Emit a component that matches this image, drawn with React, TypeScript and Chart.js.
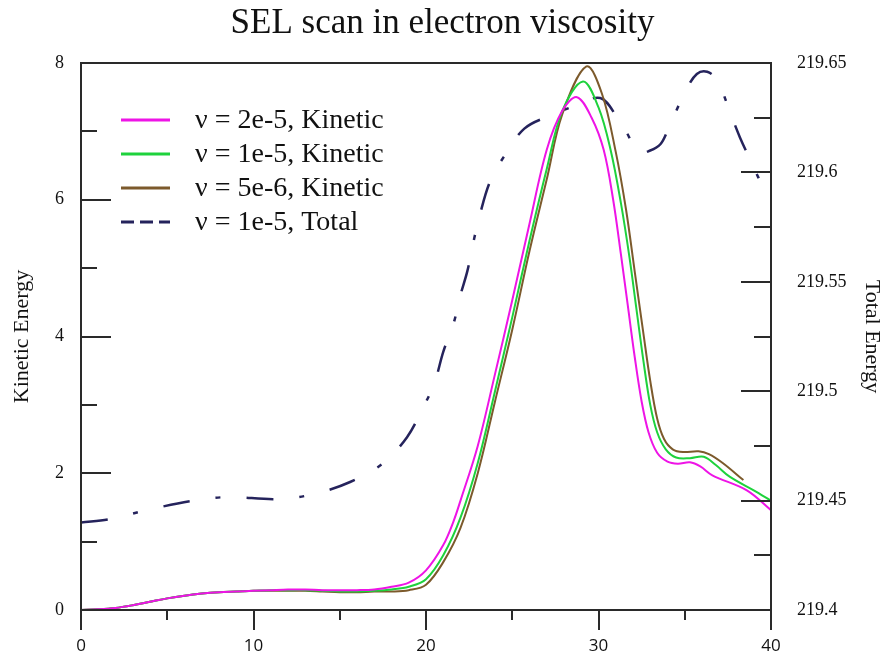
import React, { useEffect, useRef } from "react";
import { Chart, registerables } from "chart.js";
Chart.register(...registerables);

const TITLE = "SEL scan in electron viscosity";
const LEFT_TITLE = "Kinetic Energy";
const RIGHT_TITLE = "Total Energy";
const SERIES_LABELS = ["ν = 2e-5, Kinetic", "ν = 1e-5, Kinetic", "ν = 5e-6, Kinetic", "ν = 1e-5, Total"];

const MAG_X = [0,1,2,3,4,5,6,7,8,9,10,11,12,13,14,15,16,17,18,19,20,21,21.6,22,23,24,25,26,27,27.9,28.75,29.6,30.3,30.85,31.3,31.7,32.1,32.5,32.9,33.4,34.0,34.6,35.3,35.9,36.6,38.6,40];
const MAG_Y = [0,0.01,0.03,0.07,0.12,0.17,0.21,0.24,0.26,0.27,0.28,0.29,0.3,0.3,0.29,0.29,0.29,0.3,0.34,0.4,0.58,0.95,1.3,1.6,2.4,3.45,4.53,5.65,6.73,7.3,7.5,7.2,6.73,6.0,5.2,4.45,3.7,3.05,2.6,2.3,2.17,2.14,2.16,2.1,1.97,1.75,1.46];

const GRN_X = [0,1,2,3,4,5,6,7,8,9,10,11,12,13,14,15,16,17,18,19,20,21,22,23,24,25,26,27,27.9,29.1,30.0,30.7,31.3,31.8,32.2,32.6,33.0,33.4,33.9,34.5,35.3,36.1,36.8,37.6,39,40];
const GRN_Y = [0,0.01,0.03,0.07,0.12,0.17,0.21,0.24,0.26,0.27,0.28,0.29,0.29,0.29,0.28,0.27,0.27,0.28,0.3,0.34,0.45,0.8,1.35,2.15,3.2,4.28,5.4,6.45,7.3,7.73,7.35,6.73,5.95,5.15,4.4,3.65,3.0,2.6,2.35,2.23,2.22,2.24,2.12,1.95,1.75,1.6];

const BRN_X = [0,1,2,3,4,5,6,7,8,9,10,11,12,13,14,15,16,17,18,19,20,21,22,23,24,25,26,27,27.9,29.3,30.2,31.0,31.6,32.1,32.6,33.0,33.4,33.8,34.3,34.9,35.8,36.4,37.2,38.4];
const BRN_Y = [0,0.01,0.03,0.07,0.12,0.17,0.21,0.24,0.26,0.27,0.28,0.28,0.28,0.28,0.27,0.26,0.26,0.27,0.27,0.29,0.37,0.7,1.2,2.0,3.05,4.1,5.25,6.3,7.25,7.95,7.55,6.7,5.85,4.95,4.05,3.35,2.8,2.5,2.35,2.31,2.32,2.28,2.15,1.9];

const TOT_X = [0,1.7,4,6.5,8.5,11.4,13.5,15.6,17.5,18.9,19.8,20.5,21.0,21.6,22.0,22.4,22.8,23.1,23.7,24.5,25.7,27.2,28.5,30.1,31.1,31.65,32.3,33.0,33.6,34.0,34.5,35.1,35.7,36.3,36.9,37.6,38.2,38.9,39.65];
const TOT_Y = [219.440,219.4416,219.446,219.450,219.4516,219.4507,219.453,219.4585,219.467,219.479,219.492,219.504,219.518,219.531,219.544,219.555,219.570,219.580,219.5956,219.607,219.620,219.626,219.630,219.634,219.625,219.618,219.609,219.610,219.613,219.619,219.628,219.638,219.645,219.646,219.642,219.628,219.616,219.604,219.591];

const X_MIN = 0, X_MAX = 40, X_STEP = 10, X_MINOR = 5;
const YL_MIN = 0, YL_MAX = 8, YL_STEP = 2, YL_MINOR = 1;
const YR_MIN = 219.4, YR_MAX = 219.65, YR_STEP = 0.05, YR_MINOR = 0.025;

const pts = (xs: number[], ys: number[]) => xs.map((x, i) => ({ x, y: ys[i] }));

const framePlugin = {
  id: "frameTicks",
  afterDatasetsDraw(chart: any) {
    const { ctx, chartArea: a, scales } = chart;
    const sx = scales.x, sy = scales.y, sy2 = scales.y2;
    ctx.save();
    ctx.strokeStyle = "#2a2a2a";
    ctx.lineWidth = 2;
    ctx.strokeRect(a.left, a.top, a.right - a.left, a.bottom - a.top);
    ctx.beginPath();
    const nL = Math.round((YL_MAX - YL_MIN) / YL_MINOR);
    for (let k = 0; k <= nL; k++) {
      const v = YL_MIN + k * YL_MINOR;
      const py = Math.round(sy.getPixelForValue(v));
      const len = k % Math.round(YL_STEP / YL_MINOR) === 0 ? 30 : 16;
      ctx.moveTo(a.left, py); ctx.lineTo(a.left + len, py);
    }
    const nR = Math.round((YR_MAX - YR_MIN) / YR_MINOR);
    for (let k = 0; k <= nR; k++) {
      const v = YR_MIN + k * YR_MINOR;
      const py = Math.round(sy2.getPixelForValue(v));
      const len = k % Math.round(YR_STEP / YR_MINOR) === 0 ? 30 : 17;
      ctx.moveTo(a.right, py); ctx.lineTo(a.right - len, py);
    }
    const nX = Math.round((X_MAX - X_MIN) / X_MINOR);
    for (let k = 0; k <= nX; k++) {
      const v = X_MIN + k * X_MINOR;
      const px = Math.round(sx.getPixelForValue(v));
      const len = k % Math.round(X_STEP / X_MINOR) === 0 ? 20 : 10;
      ctx.moveTo(px, a.bottom); ctx.lineTo(px, a.bottom + len);
    }
    ctx.stroke();
    ctx.restore();
  },
};

const legendPlugin = {
  id: "insideLegend",
  afterDatasetsDraw(chart: any) {
    const { ctx, chartArea: a } = chart;
    ctx.save();
    chart.data.datasets.forEach((ds: any, i: number) => {
      const yy = a.top + 57 + i * 34;
      ctx.strokeStyle = ds.borderColor;
      ctx.lineWidth = 3;
      ctx.setLineDash(ds.borderDash && ds.borderDash.length ? [13, 6] : []);
      ctx.beginPath();
      ctx.moveTo(a.left + 40, yy);
      ctx.lineTo(a.left + 89, yy);
      ctx.stroke();
      ctx.setLineDash([]);
      ctx.fillStyle = "#111";
      ctx.font = '28px "Liberation Serif", serif';
      ctx.textBaseline = "middle";
      ctx.textAlign = "left";
      ctx.fillText(ds.label, a.left + 114, yy + 1);
    });
    ctx.restore();
  },
};

export default function App() {
  const ref = useRef<HTMLCanvasElement | null>(null);
  useEffect(() => {
    if (!ref.current) return;
    const serif = '"Liberation Serif", "Times New Roman", serif';
    const chart = new Chart(ref.current, {
      type: "line",
      data: {
        datasets: [
          { label: SERIES_LABELS[0], data: pts(MAG_X, MAG_Y), borderColor: "#ee14e6", borderWidth: 2, yAxisID: "y" },
          { label: SERIES_LABELS[1], data: pts(GRN_X, GRN_Y), borderColor: "#1ed23c", borderWidth: 2, yAxisID: "y" },
          { label: SERIES_LABELS[2], data: pts(BRN_X, BRN_Y), borderColor: "#7c5a2c", borderWidth: 2, yAxisID: "y" },
          { label: SERIES_LABELS[3], data: pts(TOT_X, TOT_Y), borderColor: "#25235c", borderWidth: 2.5, borderDash: [27, 26, 5, 26], yAxisID: "y2" },
        ] as any,
      },
      options: {
        animation: false,
        responsive: false,
        parsing: false as any,
        layout: { padding: 0 },
        elements: { point: { radius: 0 }, line: { tension: 0.35, fill: false } },
        plugins: {
          legend: { display: false },
          tooltip: { enabled: false },
          title: {
            display: true,
            text: TITLE,
            color: "#111",
            font: { family: serif, size: 35, weight: "normal" },
            padding: { top: 3, bottom: 18 },
          },
        },
        scales: {
          x: {
            type: "linear",
            min: X_MIN,
            max: X_MAX,
            border: { display: false },
            grid: { display: false, drawTicks: false },
            ticks: { stepSize: X_STEP, color: "#111", font: { family: '"Open Sans", sans-serif', size: 17 }, padding: 26, maxRotation: 0 },
            afterFit: (s: any) => { s.height = 43; },
          },
          y: {
            type: "linear",
            position: "left",
            min: YL_MIN,
            max: YL_MAX,
            border: { display: false },
            grid: { display: false, drawTicks: false },
            ticks: { stepSize: YL_STEP, color: "#111", font: { family: serif, size: 18 }, padding: 17 },
            title: { display: true, text: LEFT_TITLE, color: "#111", font: { family: serif, size: 22 }, padding: { top: 9, bottom: 0 } },
            afterFit: (s: any) => { s.width = 81; },
          },
          y2: {
            type: "linear",
            position: "right",
            min: YR_MIN,
            max: YR_MAX,
            border: { display: false },
            grid: { display: false, drawTicks: false },
            ticks: {
              stepSize: YR_STEP,
              color: "#111",
              font: { family: serif, size: 18 },
              padding: 26,
              callback: (v: any) => String(parseFloat(Number(v).toFixed(3))),
            },
            title: { display: true, text: RIGHT_TITLE, color: "#111", font: { family: serif, size: 22 }, padding: { top: 0, bottom: 0 } },
            afterFit: (s: any) => { s.width = 114; },
          },
        },
      } as any,
      plugins: [framePlugin, legendPlugin],
    });
    return () => chart.destroy();
  }, []);
  return (
    <div style={{ position: "fixed", left: 0, top: 0, width: 885, height: 653, background: "#fff" }}>
      <canvas ref={ref} width={885} height={653} style={{ display: "block" }} />
    </div>
  );
}
